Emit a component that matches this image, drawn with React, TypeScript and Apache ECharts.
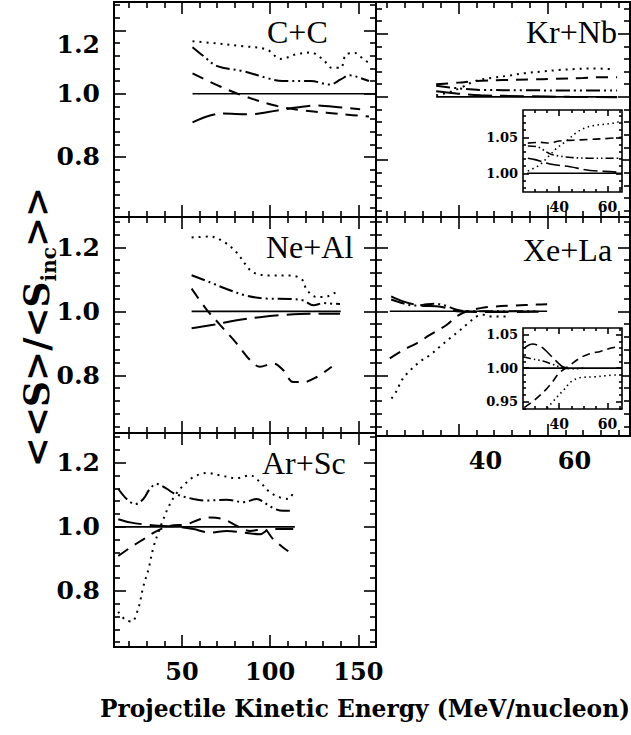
import React, { useEffect, useRef } from "react";
import * as echarts from "echarts";

// ---------- axis ranges and ticks ----------
const leftXRange = [11.5, 160];
const rightXRange = [21.5, 78.5];
const insetXRange = [25, 66];
const leftXMinor = [20, 30, 40, 60, 70, 80, 90, 110, 120, 130, 140];
const leftXMajor = [50, 100, 150];
const leftXLabels = [50, 100, 150];
const rightXMinor = [24, 28, 32, 36, 44, 48, 52, 56, 64, 68, 72, 76];
const rightXMajor = [40, 60];
const rightXLabels = [40, 60];
const yMinor = [0.64, 0.68, 0.72, 0.76, 0.84, 0.88, 0.92, 0.96, 1.04, 1.08, 1.12, 1.16, 1.24, 1.28];
const yMajor = [0.8, 1.0, 1.2];
const yLabels = [0.8, 1.0, 1.2];
const insetXMinor = [30, 35, 45, 50, 55, 65];
const insetXMajor = [40, 60];
const insetXLabels = [40, 60];
const krInsetYRange = [0.974, 1.088];
const krInsetYMinor = [0.98, 0.99, 1.01, 1.02, 1.03, 1.04, 1.06, 1.07, 1.08];
const krInsetYMajor = [1.0, 1.05];
const xeInsetYRange = [0.939, 1.06];
const xeInsetYMinor = [0.94, 0.96, 0.97, 0.98, 0.99, 1.01, 1.02, 1.03, 1.04];
const xeInsetYMajor = [0.95, 1.0, 1.05];

// ---------- data ----------
// C+C
const ccSolid = [[56, 1], [160, 1]];
const ccDotted = [[56, 1.166], [66, 1.161], [85, 1.15], [98, 1.14], [106, 1.11], [115, 1.125], [123, 1.13], [130, 1.108], [135, 1.082], [140, 1.082], [143, 1.124], [148, 1.129], [153, 1.108], [156, 1.098]];
const ccDashDot = [[56, 1.147], [62, 1.12], [70, 1.087], [85, 1.071], [98, 1.05], [107, 1.04], [123, 1.04], [134, 1.029], [140, 1.045], [145, 1.058], [151, 1.05], [156, 1.04]];
const ccDashed = [[56, 1.064], [72, 1.022], [85, 0.993], [104, 0.961], [119, 0.947], [132, 0.94], [141, 0.935], [156, 0.928]];
const ccLongDash = [[56, 0.909], [72, 0.937], [89, 0.935], [104, 0.947], [115, 0.956], [126, 0.963], [141, 0.956], [151, 0.951]];
// Ne+Al
const neSolid = [[55.5, 1], [140, 1]];
const neDotted = [[55.5, 1.231], [66, 1.234], [74.4, 1.215], [81, 1.184], [86.7, 1.142], [90.5, 1.121], [100, 1.112], [111, 1.112], [118, 1.1], [120.7, 1.068], [126.4, 1.045], [131, 1.045], [135.8, 1.056], [139.6, 1.065]];
const neDashDot = [[55.5, 1.113], [65.9, 1.091], [75.3, 1.07], [86.7, 1.049], [98.1, 1.04], [111.3, 1.039], [118.8, 1.034], [124.5, 1.019], [130.2, 1.026], [135.8, 1.024], [139.6, 1.023]];
const neDashed = [[55.5, 1.071], [64.1, 1.005], [71.6, 0.958], [81, 0.9], [88.6, 0.848], [94.2, 0.827], [101.8, 0.837], [107.5, 0.816], [113.1, 0.779], [118.8, 0.779], [126.4, 0.795], [134.9, 0.827]];
const neLongDash = [[55.5, 0.947], [67.7, 0.958], [81, 0.972], [94.2, 0.982], [107.5, 0.989], [122.6, 0.993], [139.6, 0.993]];
// Ar+Sc
const arSolid = [[11.5, 1], [114, 1]];
const arDotted = [[13.9, 0.735], [17.7, 0.711], [21.5, 0.704], [25.3, 0.746], [28.1, 0.814], [31, 0.867], [33.8, 0.935], [36.6, 0.982], [39.5, 1.024], [42.3, 1.061], [46.1, 1.098], [50.8, 1.129], [56.5, 1.155], [64.1, 1.168], [71.6, 1.161], [81.1, 1.152], [88.6, 1.161], [94.2, 1.14], [99.9, 1.108], [105.6, 1.092], [110.3, 1.087], [113.1, 1.108]];
const arDashDot = [[13.9, 1.119], [18.7, 1.087], [23.5, 1.071], [28.1, 1.087], [31.9, 1.119], [35.7, 1.134], [41.3, 1.119], [46.1, 1.103], [56.5, 1.087], [64.1, 1.082], [75.4, 1.085], [84.8, 1.077], [92.3, 1.087], [98, 1.071], [102.7, 1.056], [107.5, 1.05], [112.2, 1.05]];
const arDashed = [[13.9, 0.909], [20.6, 0.935], [28.1, 0.961], [35.7, 0.987], [43.2, 1.003], [52.6, 1.008], [60.2, 1.024], [65.9, 1.029], [73.5, 1.024], [81.1, 1.003], [88.6, 0.987], [96.2, 0.993], [101.8, 0.961], [107.5, 0.935], [110.3, 0.924]];
const arLongDash = [[13.9, 1.024], [20.6, 1.014], [28.1, 1.008], [39.5, 1.003], [47, 1.001], [56.5, 0.993], [65.9, 0.982], [75.4, 0.987], [84.8, 0.982], [94.2, 0.977], [99.9, 0.993], [107.5, 0.993], [113.1, 0.993]];
// Kr+Nb
const krSolid = [[35, 1], [75.6, 1]];
const krDotted = [[35, 1.005], [38, 1.015], [41, 1.032], [43.7, 1.05], [47.5, 1.06], [51.2, 1.067], [55, 1.075], [58.7, 1.08], [62.5, 1.085], [66.2, 1.088], [70, 1.09], [74, 1.088]];
const krDashDot = [[35, 1.035], [40, 1.027], [45, 1.022], [55, 1.021], [65, 1.02], [75.6, 1.02]];
const krDashed = [[35, 1.04], [40, 1.045], [44, 1.05], [50, 1.053], [56, 1.055], [62, 1.057], [68, 1.06], [72, 1.062], [75.6, 1.062]];
const krLongDash = [[35, 1.018], [40, 1.01], [45, 1.005], [55, 1.002], [65, 1.0], [75.6, 0.999]];
// Xe+La
const xeSolid = [[24.6, 1], [59.9, 1]];
const xeDotted = [[25, 0.727], [26.2, 0.753], [27.3, 0.785], [29.2, 0.816], [31.4, 0.843], [33.6, 0.863], [35.9, 0.89], [38.1, 0.916], [40, 0.937], [42.2, 0.963], [44.1, 0.984], [45.6, 0.989], [47.5, 0.984], [49.4, 0.984], [51.2, 0.984]];
const xeDashDot = [[24.9, 1.037], [27.6, 1.025], [29.9, 1.018], [32, 1.02], [34.5, 1.024], [37, 1.018], [39.6, 1.005], [42, 1.0], [50, 1.0], [58, 1.0]];
const xeDashed = [[24.6, 0.853], [27.6, 0.879], [30.6, 0.9], [33.6, 0.926], [37.4, 0.958], [39.6, 0.984], [41.9, 1.0], [44.9, 1.01], [47.1, 1.014], [52.4, 1.018], [57.6, 1.021], [59.9, 1.022]];
const xeLongDash = [[24.9, 1.047], [27.6, 1.031], [29.9, 1.022], [32.1, 1.017], [35, 1.016], [37.5, 1.01], [39.6, 1.0], [44, 0.998], [50, 0.998], [58, 0.999]];
// Kr+Nb inset
const krInSolid = [[26.7, 1], [66, 1]];
const krInDotted = [[27, 1.003], [32, 1.012], [36, 1.025], [39, 1.035], [43, 1.045], [47.3, 1.057], [51.4, 1.064], [55.6, 1.067], [61, 1.069], [64, 1.071], [66, 1.073]];
const krInDashDot = [[27, 1.038], [30.7, 1.037], [36.2, 1.027], [40, 1.024], [45, 1.022], [52, 1.021], [60, 1.021], [66, 1.021]];
const krInDashed = [[27, 1.042], [32, 1.043], [36, 1.042], [40, 1.045], [46, 1.046], [52, 1.047], [58, 1.048], [66, 1.05]];
const krInLongDash = [[27, 1.021], [30, 1.019], [36.2, 1.013], [44.5, 1.009], [52.8, 1.004], [62.5, 1.002], [66, 1.001]];
// Xe+La inset
const xeInSolid = [[25, 1], [66, 1]];
const xeInDotted = [[35, 0.94], [38.6, 0.955], [42, 0.968], [45, 0.98], [49, 0.986], [54.5, 0.987], [60, 0.989], [64, 0.99]];
const xeInDashDot = [[25, 1.017], [30, 1.013], [34, 1.01], [37, 1.006], [40, 1.002], [42, 1.0], [46, 0.999], [50, 1.0]];
const xeInDashed = [[25.5, 0.941], [30, 0.953], [34.5, 0.968], [37.3, 0.98], [40, 0.993], [43.5, 1.002], [49, 1.016], [53, 1.022], [57, 1.025], [61.5, 1.03], [64, 1.032]];
const xeInLongDash = [[25.5, 1.03], [29, 1.036], [32.4, 1.032], [34.5, 1.026], [37, 1.017], [39.5, 1.008], [41.5, 1.002], [44, 1.0]];

const DSERIF = "'DejaVu Serif', serif";
const SERIF = "'Liberation Serif', 'DejaVu Serif', serif";

const mainDash: Record<string, any> = {
  solid: "solid",
  dotted: [2, 5],
  dashDot: [14, 4, 2, 4, 2, 4],
  dashed: [12, 8],
  longDash: [24, 8],
};
const insetDash: Record<string, any> = {
  solid: "solid",
  dotted: [1.5, 3.5],
  dashDot: [8, 3, 1.5, 3, 1.5, 3],
  dashed: [8, 5],
  longDash: [14, 5],
};

function buildOption() {
  const grids: any[] = [];
  const xAxes: any[] = [];
  const yAxes: any[] = [];
  const series: any[] = [];

  const tickAxis = (gridIndex: number, position: string, range: number[], values: number[], length: number, z: number, label?: any) => ({
    type: "value",
    gridIndex,
    position,
    min: range[0],
    max: range[1],
    z,
    axisLine: { show: false, onZero: false },
    splitLine: { show: false },
    axisTick: { show: true, inside: true, length, customValues: values, lineStyle: { color: "#000", width: 1.6 } },
    axisLabel: label ? label : { show: false },
  });

  const addPanel = (p: any) => {
    const gi = grids.length;
    grids.push({
      show: true,
      left: p.box[0],
      top: p.box[1],
      width: p.box[2],
      height: p.box[3],
      borderColor: "#000",
      borderWidth: p.inset ? 1.6 : 2,
      backgroundColor: p.inset ? "#fff" : "transparent",
      z: p.inset ? 5 : 0,
    });
    const z = p.inset ? 6 : 1;
    const mi = p.inset ? 3 : 6;
    const ma = p.inset ? 6 : 12;
    const xi = xAxes.length;
    xAxes.push(tickAxis(gi, "bottom", p.xr, p.xMinor, mi, z, p.xLabel));
    xAxes.push(tickAxis(gi, "bottom", p.xr, p.xMajor, ma, z));
    xAxes.push(tickAxis(gi, "top", p.xr, p.xMinor, mi, z));
    xAxes.push(tickAxis(gi, "top", p.xr, p.xMajor, ma, z));
    const yi = yAxes.length;
    yAxes.push(tickAxis(gi, "left", p.yr, p.yMinor, mi, z, p.yLabel));
    yAxes.push(tickAxis(gi, "left", p.yr, p.yMajor, ma, z));
    yAxes.push(tickAxis(gi, "right", p.yr, p.yMinor, mi, z));
    yAxes.push(tickAxis(gi, "right", p.yr, p.yMajor, ma, z));
    const dash = p.inset ? insetDash : mainDash;
    Object.keys(p.lines).forEach((k) => {
      series.push({
        type: "line",
        name: p.name + " " + k,
        xAxisIndex: xi,
        yAxisIndex: yi,
        data: p.lines[k],
        showSymbol: false,
        symbol: "none",
        smooth: 0.35,
        silent: true,
        z: p.inset ? 7 : 2,
        clip: true,
        lineStyle: { color: "#000", width: k === "solid" ? 1.6 : p.inset ? 1.6 : 2, type: dash[k], cap: "butt" },
      });
    });
  };

  const mainYLabel = (shiftTop: boolean) => ({
    show: true,
    customValues: yLabels,
    margin: 14,
    formatter: (v: number) => (shiftTop && Math.abs(v - 1.2) < 1e-6 ? "{s|" + v.toFixed(1) + "}" : "{n|" + v.toFixed(1) + "}"),
    rich: {
      n: { fontFamily: DSERIF, fontWeight: "bold", fontSize: 25, color: "#000" },
      s: { fontFamily: DSERIF, fontWeight: "bold", fontSize: 25, color: "#000", padding: [28, 0, 0, 0] },
    },
  });
  const mainXLabel = (vals: number[], shift: number) => ({
    show: true,
    customValues: vals,
    margin: 12,
    fontFamily: DSERIF,
    fontWeight: "bold",
    fontSize: 24,
    color: "#000",
    padding: [0, 0, 0, shift],
    formatter: (v: number) => String(v),
  });
  const insetYLabel = (vals: number[]) => ({
    show: true,
    customValues: vals,
    margin: 5,
    fontFamily: DSERIF,
    fontWeight: "bold",
    fontSize: 13,
    color: "#000",
    formatter: (v: number) => v.toFixed(2),
  });
  const insetXLabel = {
    show: true,
    customValues: insetXLabels,
    margin: 8,
    fontFamily: DSERIF,
    fontWeight: "bold",
    fontSize: 14,
    color: "#000",
    formatter: (v: number) => String(v),
  };

  const leftCommon = { xr: leftXRange, xMinor: leftXMinor, xMajor: leftXMajor, yMinor, yMajor };
  const rightCommon = { xr: rightXRange, xMinor: rightXMinor, xMajor: rightXMajor, yMinor, yMajor };

  addPanel({ ...leftCommon, name: "C+C", box: [114, 2, 262, 215], yr: [0.61, 1.29], yLabel: mainYLabel(true),
    lines: { solid: ccSolid, dotted: ccDotted, dashDot: ccDashDot, dashed: ccDashed, longDash: ccLongDash } });
  addPanel({ ...rightCommon, name: "Kr+Nb", box: [376, 2, 254, 215], yr: [0.62, 1.3],
    lines: { solid: krSolid, dotted: krDotted, dashDot: krDashDot, dashed: krDashed, longDash: krLongDash } });
  addPanel({ ...leftCommon, name: "Ne+Al", box: [114, 217, 262, 216], yr: [0.62, 1.295], yLabel: mainYLabel(false),
    lines: { solid: neSolid, dotted: neDotted, dashDot: neDashDot, dashed: neDashed, longDash: neLongDash } });
  addPanel({ ...rightCommon, name: "Xe+La", box: [376, 217, 254, 219], yr: [0.61, 1.295], xLabel: mainXLabel(rightXLabels, 54),
    lines: { solid: xeSolid, dotted: xeDotted, dashDot: xeDashDot, dashed: xeDashed, longDash: xeLongDash } });
  addPanel({ ...leftCommon, name: "Ar+Sc", box: [114, 433, 262, 214], yr: [0.625, 1.293], yLabel: mainYLabel(false), xLabel: mainXLabel(leftXLabels, 0),
    lines: { solid: arSolid, dotted: arDotted, dashDot: arDashDot, dashed: arDashed, longDash: arLongDash } });
  addPanel({ inset: true, name: "Kr+Nb inset", box: [523, 110, 99, 82], xr: insetXRange, yr: krInsetYRange,
    xMinor: insetXMinor, xMajor: insetXMajor, yMinor: krInsetYMinor, yMajor: krInsetYMajor,
    xLabel: insetXLabel, yLabel: insetYLabel(krInsetYMajor),
    lines: { solid: krInSolid, dotted: krInDotted, dashDot: krInDashDot, dashed: krInDashed, longDash: krInLongDash } });
  addPanel({ inset: true, name: "Xe+La inset", box: [523, 328, 99, 81], xr: insetXRange, yr: xeInsetYRange,
    xMinor: insetXMinor, xMajor: insetXMajor, yMinor: xeInsetYMinor, yMajor: xeInsetYMajor,
    xLabel: insetXLabel, yLabel: insetYLabel(xeInsetYMajor),
    lines: { solid: xeInSolid, dotted: xeInDotted, dashDot: xeInDashDot, dashed: xeInDashed, longDash: xeInLongDash } });

  const panelLabel = (text: string, x: number, y: number) => ({
    type: "text",
    x,
    y,
    z: 10,
    style: { text, font: "32px " + SERIF, fill: "#000", align: "left", verticalAlign: "middle" },
  });

  const graphic = [
    panelLabel("C+C", 267, 32),
    panelLabel("Kr+Nb", 526, 32),
    panelLabel("Ne+Al", 266, 247),
    panelLabel("Xe+La", 523, 250),
    panelLabel("Ar+Sc", 262, 463),
    {
      type: "text",
      x: 100,
      y: 708,
      z: 10,
      style: {
        text: "Projectile Kinetic Energy (MeV/nucleon)",
        font: "bold 23.3px " + DSERIF,
        fill: "#000",
        align: "left",
        verticalAlign: "middle",
      },
    },
    {
      type: "text",
      x: 36,
      y: 327,
      rotation: Math.PI / 2,
      z: 10,
      style: {
        text: "{a|<<S>/<S}{b|inc}{a|>>}",
        align: "center",
        verticalAlign: "middle",
        rich: {
          a: { font: "bold 36px " + DSERIF, fill: "#000", verticalAlign: "middle", lineHeight: 46 },
          b: { font: "bold 20px " + DSERIF, fill: "#000", verticalAlign: "bottom", lineHeight: 46 },
        },
      },
    },
  ];

  return {
    animation: false,
    backgroundColor: "#fff",
    grid: grids,
    xAxis: xAxes,
    yAxis: yAxes,
    series,
    graphic,
  };
}

export default function App() {
  const ref = useRef<HTMLDivElement>(null);
  useEffect(() => {
    document.body.style.margin = "0";
    if (!ref.current) return;
    const chart = echarts.init(ref.current, null, { renderer: "svg" });
    chart.setOption(buildOption() as any);
    return () => chart.dispose();
  }, []);
  return <div ref={ref} style={{ width: 631, height: 735 }} />;
}
